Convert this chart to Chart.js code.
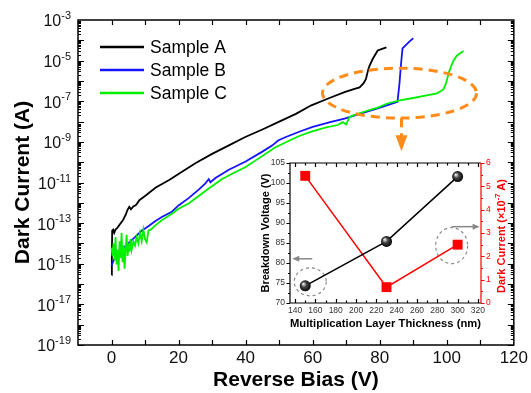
<!DOCTYPE html>
<html>
<head>
<meta charset="utf-8">
<script src="https://cdn.jsdelivr.net/npm/chart.js@4.4.1/dist/chart.umd.min.js"></script>
<style>
  html, body { margin: 0; padding: 0; background: #fff; }
  #wrap { position: relative; width: 531px; height: 393px; }
  #mainChart { position: absolute; left: 0; top: 0; }
  #insetChart { position: absolute; left: 246px; top: 148px; }
</style>
</head>
<body>
<div id="wrap">
  <canvas id="mainChart" width="531" height="393"></canvas>
  <canvas id="insetChart" width="272" height="186"></canvas>
</div>
<script>
/* ── data: main plot (reverse bias in V, log10 of dark current in A) ── */
var biasA = [0, 0.1, 0.2, 0.5, 0.8, 1.2, 1.8, 2.5, 3.4, 4.2, 4.8, 5.3, 5.8, 6.5, 7.3, 8.3, 10, 13.2, 17.2, 20.1,
             25, 30, 35, 39.9, 45, 49.7, 55, 59.6, 65, 69.5, 72, 74, 75.2, 75.9, 76.5, 76.9, 77.9, 79.4, 80.5, 82];
var logIA = [-15.55, -14.62, -13.37, -13.32, -13.48, -13.32, -13.22, -13.06, -12.86, -12.6, -12.34, -12.2, -12.32, -12.18, -12.11, -11.87, -11.66, -11.25, -10.88, -10.57,
             -10.05, -9.59, -9.17, -8.76, -8.39, -8.03, -7.62, -7.2, -6.84, -6.55, -6.42, -6.32, -6.11, -5.9, -5.49, -5.28, -4.92, -4.5, -4.43, -4.35];

var biasB = [0, 0.5, 1, 2, 3, 4, 5, 6, 7, 8, 9, 10, 11.3, 13, 15, 18, 20, 23, 26, 28, 29, 29.5,
             31, 35, 40, 45, 48, 49.7, 52, 56, 60, 65.5, 69.5, 74, 79.4, 83, 85.3, 85.9, 86.4, 86.8, 87.7, 89, 90];
var logIB = [-15.09, -14.88, -14.72, -14.52, -14.31, -14.15, -14.0, -13.84, -13.69, -13.53, -13.37, -13.27, -13.12, -12.91, -12.7, -12.44, -12.13, -11.77, -11.35, -11.04, -10.83, -10.99,
             -10.78, -10.37, -9.97, -9.48, -9.17, -8.93, -8.76, -8.5, -8.26, -8.01, -7.85, -7.62, -7.35, -7.15, -7.03, -6.11, -5.08, -4.4, -4.25, -4.04, -3.9];

var biasC = [0, 0.3, 0.6, 0.9, 1.2, 1.5, 1.8, 2.1, 2.4, 2.7, 3.0, 3.3, 3.6, 3.9, 4.2, 4.5, 4.8, 5.1, 5.4, 5.7, 6.0,
             6.5, 7.0, 7.5, 8.0, 8.5, 9.0, 9.5, 10.0, 10.5, 11.0, 11.7, 13, 15, 18, 20, 23, 26, 29, 33, 36,
             40, 44, 48.8, 52, 56, 59.6, 64, 67.5, 69, 70, 71, 72.5, 76, 79.4, 82.3, 86, 90, 94, 97.1, 99,
             99.8, 100.6, 101.4, 102.1, 103, 104, 105];
var logIC = [-14.2, -14.62, -14.0, -14.83, -13.69, -15.03, -14.31, -15.35, -13.89, -14.72, -13.48, -14.93, -14.1, -15.24, -14.31, -13.58, -14.62, -14.0, -14.41, -13.79, -14.31,
             -13.89, -14.1, -13.69, -14.0, -13.48, -13.89, -13.32, -13.79, -13.95, -13.37, -13.32, -13.12, -12.86, -12.54, -12.29, -12.03, -11.66, -11.3, -10.83, -10.57,
             -10.24, -9.8, -9.28, -9.02, -8.71, -8.5, -8.29, -8.17, -8.03, -8.14, -7.77, -7.67, -7.48, -7.31, -7.11, -6.96, -6.84, -6.71, -6.61, -6.42,
             -6.11, -5.59, -5.23, -4.97, -4.76, -4.64, -4.52];

var xTickLabels = [0, 20, 40, 60, 80, 100, 120];
var yLabelExp   = [-3, -5, -7, -9, -11, -13, -15, -17, -19];

/* ── data: inset ── */
var thickness   = [150, 230, 300];          // nm
var breakdownV  = [74.3, 85.4, 101.6];      // V
var darkCurrent = [5.45, 0.68, 2.5];        // x1e-7 A
var insetXTicks = [140, 160, 180, 200, 220, 240, 260, 280, 300, 320];

var FONT = "'Liberation Sans', Arial, Helvetica, sans-serif";
Chart.defaults.font.family = FONT;
Chart.defaults.color = '#000';

function toPoints(xs, exps) {
  return xs.map(function(v, i) { return { x: v, y: Math.pow(10, exps[i]) }; });
}

/* ── main plot decorations: frame, inward ticks, 10^n labels, legend, callout ── */
var mainDecor = {
  id: 'mainDecor',
  afterDraw: function(chart) {
    var ctx = chart.ctx, a = chart.chartArea, xs = chart.scales.x, ys = chart.scales.y;
    ctx.save();
    ctx.strokeStyle = '#000';
    ctx.lineWidth = 1.5;
    ctx.strokeRect(a.left, a.top, a.right - a.left, a.bottom - a.top);

    ctx.lineWidth = 1.2;
    ctx.beginPath();
    for (var v = 0; v < 120; v += 10) {
      var px = Math.round(xs.getPixelForValue(v)) + 0.5;
      ctx.moveTo(px, a.bottom); ctx.lineTo(px, a.bottom - 5);
      ctx.moveTo(px, a.top);    ctx.lineTo(px, a.top + 5);
    }
    for (var e = -19; e < -3; e++) {
      for (var m = 1; m < 10; m++) {
        var py = Math.round(ys.getPixelForValue(m * Math.pow(10, e))) + 0.5;
        var len = m === 1 ? 6 : 3;
        ctx.moveTo(a.left, py);  ctx.lineTo(a.left + len, py);
        ctx.moveTo(a.right, py); ctx.lineTo(a.right - len, py);
      }
    }
    ctx.stroke();

    // y tick labels as 10 with a raised exponent
    ctx.fillStyle = '#111';
    ctx.textBaseline = 'middle';
    ctx.textAlign = 'left';
    yLabelExp.forEach(function(ex) {
      var py = ys.getPixelForValue(Math.pow(10, ex));
      var sup = String(ex);
      ctx.font = '11px ' + FONT;
      var sw = ctx.measureText(sup).width;
      ctx.font = '16px ' + FONT;
      var bw = ctx.measureText('10').width;
      var right = a.left - 7;
      ctx.fillText('10', right - sw - bw, py + 2);
      ctx.font = '11px ' + FONT;
      ctx.fillText(sup, right - sw, py - 4);
    });

    // legend
    chart.data.datasets.forEach(function(d, i) {
      var ly = 47 + 23 * i;
      ctx.strokeStyle = d.borderColor;
      ctx.lineWidth = 2.5;
      ctx.beginPath(); ctx.moveTo(100, ly); ctx.lineTo(144, ly); ctx.stroke();
      ctx.fillStyle = '#000';
      ctx.font = '17.5px ' + FONT;
      ctx.fillText(d.label, 150, ly + 1);
    });

    // orange dashed ellipse around the breakdown knees + arrow to inset
    var cx = xs.getPixelForValue(85.9), cy = ys.getPixelForValue(Math.pow(10, -6.6));
    ctx.strokeStyle = '#ff8c1a';
    ctx.lineWidth = 3;
    ctx.setLineDash([9, 6]);
    ctx.beginPath(); ctx.ellipse(cx, cy, 77, 25, 0, 0, Math.PI * 2); ctx.stroke();
    ctx.beginPath(); ctx.moveTo(cx + 2, cy + 25); ctx.lineTo(cx + 2, cy + 44); ctx.stroke();
    ctx.setLineDash([]);
    ctx.fillStyle = '#ff8c1a';
    ctx.beginPath();
    ctx.moveTo(cx - 4, cy + 42); ctx.lineTo(cx + 8, cy + 42); ctx.lineTo(cx + 2, cy + 58);
    ctx.closePath(); ctx.fill();
    ctx.restore();
  }
};

var mainChart = new Chart(document.getElementById('mainChart'), {
  type: 'line',
  data: {
    datasets: [
      { label: 'Sample A', data: toPoints(biasA, logIA), borderColor: '#000000', order: 2 },
      { label: 'Sample B', data: toPoints(biasB, logIB), borderColor: '#1414ff', order: 1 },
      { label: 'Sample C', data: toPoints(biasC, logIC), borderColor: '#00f000', order: 0 }
    ].map(function(d) {
      d.borderWidth = 1.8;
      d.pointRadius = 0;
      d.fill = false;
      d.tension = 0;
      return d;
    })
  },
  options: {
    responsive: false, animation: false, events: [],
    layout: { padding: { left: 0, top: 20, right: 14, bottom: 0 } },
    plugins: { legend: { display: false }, tooltip: { enabled: false } },
    scales: {
      x: {
        type: 'linear', min: -10, max: 120,
        afterBuildTicks: function(s) { s.ticks = xTickLabels.map(function(v) { return { value: v }; }); },
        grid: { display: false, drawTicks: false },
        border: { display: false },
        ticks: { font: { size: 17 }, color: '#111', padding: 3, maxRotation: 0, autoSkip: false },
        title: { display: true, text: 'Reverse Bias (V)', font: { size: 21, weight: 'bold' }, padding: { top: 0, bottom: 0 } },
        afterFit: function(s) { s.height = 48; }
      },
      y: {
        type: 'logarithmic', min: 1e-19, max: 1e-3,
        ticks: { display: false },
        grid: { display: false, drawTicks: false },
        border: { display: false },
        title: { display: true, text: 'Dark Current (A)', font: { size: 21, weight: 'bold' }, padding: { top: 11, bottom: 0 } },
        afterFit: function(s) { s.width = 78; }
      }
    }
  },
  plugins: [mainDecor]
});

/* ── inset ── */
function sphere(c) {
  var chart = c.chart, p = c.parsed;
  if (!p || !chart.scales.x || !chart.scales.y) return '#000';
  var x = chart.scales.x.getPixelForValue(p.x), y = chart.scales.y.getPixelForValue(p.y);
  if (!isFinite(x) || !isFinite(y)) return '#000';
  var g = chart.ctx.createRadialGradient(x - 2, y - 2, 0.5, x, y, 6);
  g.addColorStop(0, '#e6e6e6');
  g.addColorStop(0.4, '#444');
  g.addColorStop(1, '#000');
  return g;
}

var insetDecor = {
  id: 'insetDecor',
  beforeDatasetsDraw: function(chart) {
    var ctx = chart.ctx, xs = chart.scales.x, yl = chart.scales.y, yr = chart.scales.y1;
    ctx.save();
    ctx.strokeStyle = '#888';
    ctx.fillStyle = '#888';
    ctx.lineWidth = 1.2;
    // left circle + arrow (breakdown voltage -> left axis)
    var lx = xs.getPixelForValue(thickness[0]) + 5, ly = yl.getPixelForValue(breakdownV[0]) - 4;
    ctx.setLineDash([3, 3]);
    ctx.beginPath(); ctx.ellipse(lx, ly, 16, 14, 0, 0, Math.PI * 2); ctx.stroke();
    // right circle + arrow (dark current -> right axis)
    var rx = xs.getPixelForValue(thickness[2]) - 6, ry = yr.getPixelForValue(darkCurrent[2]) + 1;
    ctx.beginPath(); ctx.ellipse(rx, ry, 16, 18, 0, 0, Math.PI * 2); ctx.stroke();
    ctx.setLineDash([]);
    ctx.lineWidth = 1.5;
    ctx.beginPath(); ctx.moveTo(lx + 2, ly - 23); ctx.lineTo(lx - 12, ly - 23); ctx.stroke();
    ctx.beginPath(); ctx.moveTo(lx - 18, ly - 23); ctx.lineTo(lx - 11, ly - 26); ctx.lineTo(lx - 11, ly - 20); ctx.closePath(); ctx.fill();
    ctx.beginPath(); ctx.moveTo(rx, ry - 19); ctx.lineTo(rx + 22, ry - 19); ctx.stroke();
    ctx.beginPath(); ctx.moveTo(rx + 28, ry - 19); ctx.lineTo(rx + 21, ry - 22); ctx.lineTo(rx + 21, ry - 16); ctx.closePath(); ctx.fill();
    ctx.restore();
  },
  afterDraw: function(chart) {
    var ctx = chart.ctx, a = chart.chartArea, xs = chart.scales.x, yl = chart.scales.y, yr = chart.scales.y1;
    ctx.save();
    ctx.lineWidth = 1.2;
    ctx.strokeStyle = '#000';
    ctx.beginPath();
    ctx.moveTo(a.right, a.top); ctx.lineTo(a.left, a.top); ctx.lineTo(a.left, a.bottom); ctx.lineTo(a.right, a.bottom);
    for (var v = 140; v <= 320; v += 10) {
      var px = Math.round(xs.getPixelForValue(v)) + 0.5;
      var len = v % 20 === 0 ? 4 : 2.5;
      ctx.moveTo(px, a.bottom); ctx.lineTo(px, a.bottom - len);
      ctx.moveTo(px, a.top);    ctx.lineTo(px, a.top + len);
    }
    for (var b = 70; b <= 105; b += 2.5) {
      var py = Math.round(yl.getPixelForValue(b)) + 0.5;
      ctx.moveTo(a.left, py); ctx.lineTo(a.left - (b % 5 === 0 ? 3.5 : 2), py);
    }
    ctx.stroke();
    ctx.strokeStyle = '#ff0000';
    ctx.beginPath();
    ctx.moveTo(a.right, a.top); ctx.lineTo(a.right, a.bottom);
    for (var c = 0; c <= 6; c += 0.5) {
      var qy = Math.round(yr.getPixelForValue(c)) + 0.5;
      ctx.moveTo(a.right, qy); ctx.lineTo(a.right + (c % 1 === 0 ? 3.5 : 2), qy);
    }
    ctx.stroke();

    // right axis title, rotated, with superscript exponent
    ctx.fillStyle = '#ff0000';
    ctx.textBaseline = 'middle';
    ctx.textAlign = 'left';
    var parts = [['Dark Current (\u00d710', 'bold 11px ' + FONT, 0], ['-7', 'bold 7.5px ' + FONT, -4], [' A)', 'bold 11px ' + FONT, 0]];
    var total = 0;
    parts.forEach(function(p) { ctx.font = p[1]; p.push(ctx.measureText(p[0]).width); total += p[3]; });
    ctx.translate(a.right + 21, (a.top + a.bottom) / 2 + 3);
    ctx.rotate(-Math.PI / 2);
    var x0 = -total / 2;
    parts.forEach(function(p) { ctx.font = p[1]; ctx.fillText(p[0], x0, p[2]); x0 += p[3]; });
    ctx.restore();
  }
};

var insetChart = new Chart(document.getElementById('insetChart'), {
  type: 'line',
  data: {
    datasets: [
      {
        label: 'Breakdown Voltage', yAxisID: 'y',
        data: thickness.map(function(t, i) { return { x: t, y: breakdownV[i] }; }),
        borderColor: '#000', borderWidth: 1.5,
        pointRadius: 5.5, pointBorderWidth: 0, pointBackgroundColor: sphere
      },
      {
        label: 'Dark Current', yAxisID: 'y1',
        data: thickness.map(function(t, i) { return { x: t, y: darkCurrent[i] }; }),
        borderColor: '#ff0000', borderWidth: 1.5,
        pointStyle: 'rect', pointRadius: 7, pointBorderWidth: 0, pointBackgroundColor: '#ff0000'
      }
    ]
  },
  options: {
    responsive: false, animation: false, events: [],
    layout: { padding: { left: 0, top: 15, right: 0, bottom: 0 } },
    plugins: { legend: { display: false }, tooltip: { enabled: false } },
    scales: {
      x: {
        type: 'linear', min: 135, max: 323,
        afterBuildTicks: function(s) { s.ticks = insetXTicks.map(function(v) { return { value: v }; }); },
        grid: { display: false, drawTicks: false },
        border: { display: false },
        ticks: { font: { size: 8.5 }, color: '#333', padding: 3, maxRotation: 0, autoSkip: false },
        title: { display: true, text: 'Multiplication Layer Thickness (nm)', font: { size: 11.5, weight: 'bold' }, padding: { top: 0, bottom: 3 } },
        afterFit: function(s) { s.height = 31; }
      },
      y: {
        type: 'linear', position: 'left', min: 70, max: 105,
        grid: { display: false, drawTicks: false },
        border: { display: false },
        ticks: { stepSize: 5, font: { size: 8.5 }, color: '#333', padding: 5 },
        title: { display: true, text: 'Breakdown Voltage (V)', font: { size: 11, weight: 'bold' }, padding: { top: 13, bottom: 0 } },
        afterFit: function(s) { s.width = 44; }
      },
      y1: {
        type: 'linear', position: 'right', min: 0, max: 6,
        grid: { display: false, drawTicks: false },
        border: { display: false },
        ticks: { stepSize: 1, font: { size: 8.5 }, color: '#ff0000', padding: 5 },
        afterFit: function(s) { s.width = 37; }
      }
    }
  },
  plugins: [insetDecor]
});
</script>
</body>
</html>
